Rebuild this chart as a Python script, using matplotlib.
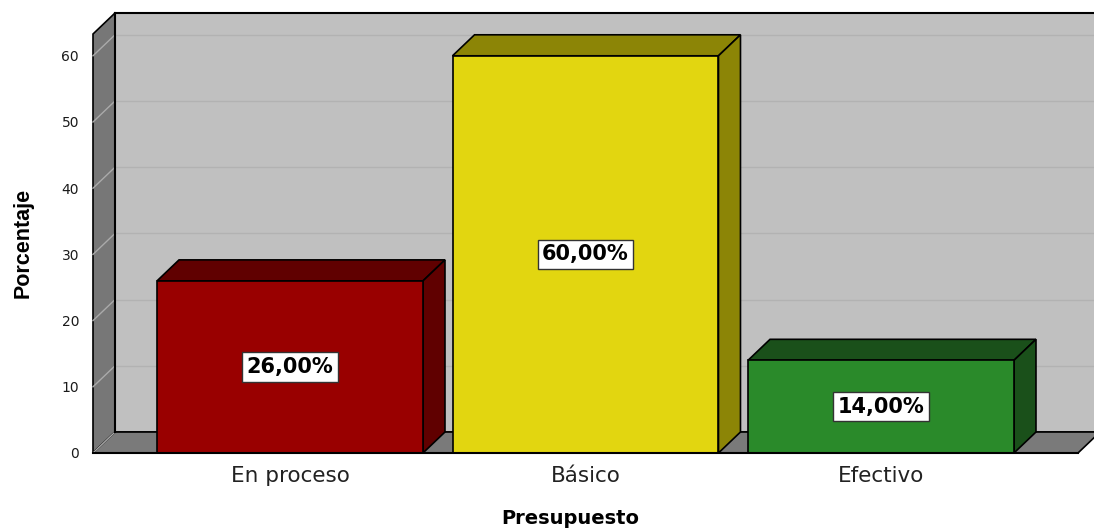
import matplotlib
matplotlib.use('Agg')
import matplotlib.pyplot as plt
from matplotlib.patches import Polygon

categories = ['En proceso', 'Básico', 'Efectivo']
percent = [26.0, 60.0, 14.0]
yticks = [0, 10, 20, 30, 40, 50, 60]

front_colors = ['#990000', '#E2D610', '#2A8A2A']
side_colors = ['#600000', '#8C8506', '#1A501A']

W, H = 1094, 528
fig = plt.figure(figsize=(W / 100, H / 100), dpi=100)
# front plane of the box: x 93..1078 px, y 453..34 px
ax = fig.add_axes([93 / W, (H - 453) / H, (1078 - 93) / W, (453 - 34) / H])
ymax = (453 - 34) / 6.62
ax.set_xlim(-2 / 3, 2 + 2 / 3)
ax.set_ylim(0, ymax)
for s in ax.spines.values():
    s.set_visible(False)
ax.set_xticks([])
ax.set_yticks(yticks)
ax.tick_params(axis='y', length=0, pad=10, labelsize=10, colors='#1a1a1a')

# depth of the 3d box in data units
dx = 22 / 295.5
dy = 21 / 6.62
x0, x1 = -2 / 3, 2 + 2 / 3
wall_top = ymax + dy

def poly(pts, fc, ec='black', lw=1.2, z=1):
    ax.add_patch(Polygon(pts, closed=True, facecolor=fc, edgecolor=ec,
                         linewidth=lw, zorder=z, clip_on=False, joinstyle='miter'))

# back wall, left wall, floor
poly([(x0 + dx, dy), (x1 + dx + 0.2, dy), (x1 + dx + 0.2, wall_top), (x0 + dx, wall_top)], '#C0C0C0', z=1)
poly([(x0, 0), (x0 + dx, dy), (x0 + dx, wall_top), (x0, ymax)], '#777777', z=2)
poly([(x0, 0), (x1, 0), (x1 + dx, dy), (x0 + dx, dy)], '#7A7A7A', z=2)

for t in yticks[1:]:
    ax.plot([x0 + dx, x1 + dx + 0.2], [t + dy, t + dy], color='#B2B2B2', lw=1, zorder=1.5, clip_on=False)
for t in yticks:
    ax.plot([x0, x0 + dx], [t, t + dy], color='#AAAAAA', lw=1, zorder=2.5, clip_on=False)
ax.plot([x0 + dx, x0 + dx], [dy, wall_top], color='black', lw=1.5, zorder=2.6, clip_on=False)
ax.plot([x0 + dx, x1 + dx + 0.2], [wall_top, wall_top], color='black', lw=1.5, zorder=2.6, clip_on=False)

# bars
bw = 0.9
for i, (v, fc, sc) in enumerate(zip(percent, front_colors, side_colors)):
    l, r = i - bw / 2, i + bw / 2
    poly([(l, v), (r, v), (r + dx, v + dy), (l + dx, v + dy)], sc, z=5)
    poly([(r, 0), (r + dx, dy), (r + dx, v + dy), (r, v)], sc, z=5)
    poly([(l, 0), (r, 0), (r, v), (l, v)], fc, z=6)
    ax.text(i, v / 2, f'{v:.2f}%'.replace('.', ','), ha='center', va='center',
            fontsize=15, fontweight='bold', zorder=8,
            bbox=dict(boxstyle='square,pad=0.22', facecolor='white', edgecolor='#333333', linewidth=1))
    ax.text(i, -3.4, categories[i], ha='center', va='center', fontsize=15.5, color='#222222')

ax.plot([x0, x1], [0, 0], color='black', lw=1.5, zorder=7, clip_on=False)

fig.text(570 / W, 1 - 518 / H, 'Presupuesto', ha='center', va='center', fontsize=14, fontweight='bold')
fig.text(23 / W, 1 - 243 / H, 'Porcentaje', ha='center', va='center', rotation=90,
         fontsize=15.5, fontweight='bold', fontstretch='condensed',
         family=['Liberation Sans Narrow', 'Liberation Sans'])

fig.savefig('out.png', dpi=100, facecolor='white')
